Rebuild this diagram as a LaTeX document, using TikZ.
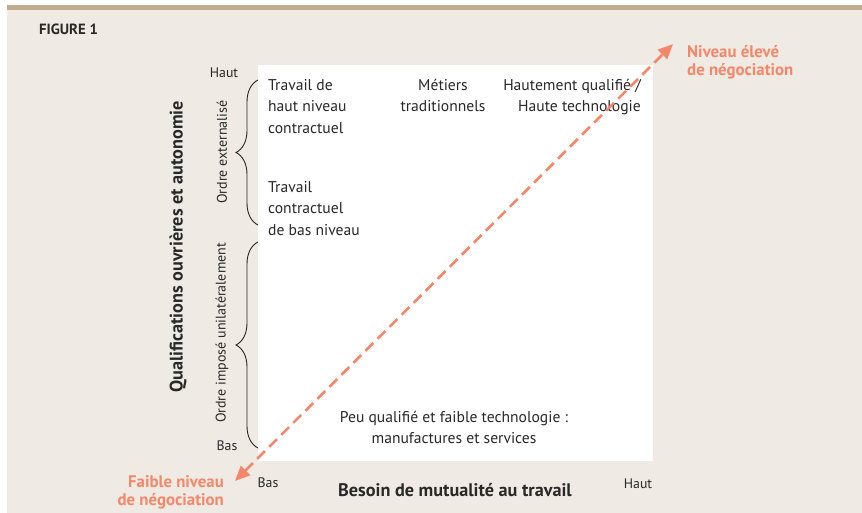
\documentclass[tikz,border=0pt]{standalone}
\usepackage{fontspec}
\setmainfont{PT Sans}
\usetikzlibrary{arrows.meta,decorations.pathreplacing}

\definecolor{sable}{RGB}{239,234,227}
\definecolor{bande}{RGB}{192,171,140}
\definecolor{encre}{RGB}{40,40,40}
\definecolor{saumon}{RGB}{244,135,106}

\begin{document}
\begin{tikzpicture}[x=1pt,y=-1pt]
    \tikzset{every node/.style={inner sep=0pt,text=encre},
             cadre/.style={font=\fontsize{15.6}{21.5}\selectfont},
             repere/.style={font=\fontsize{13.8}{15}\selectfont},
             titre/.style={font=\bfseries\fontsize{18.2}{20}\selectfont},
             ordre/.style={font=\fontsize{14}{16}\selectfont,rotate=90},
             negoc/.style={text=saumon,font=\bfseries\fontsize{16.8}{18.5}\selectfont},
             accolade/.style={draw=encre,line width=0.9pt,
                              decorate,decoration={brace,amplitude=22pt}}}

    % fond et bande du haut
    \useasboundingbox (0,0) rectangle (862,513);
    \fill[sable] (7,5) rectangle (862,513);
    \fill[bande] (7,5) rectangle (862,10);
    \fill[white] (258,65) rectangle (653,461);

    \node (fig) [anchor=west,font=\bfseries\fontsize{14.8}{16}\selectfont] at (39,29) {FIGURE 1};

    % cases du cadre
    \node (hautniv) [cadre,anchor=north west,align=left] at (268,79)
        {Travail de\\haut niveau\\contractuel};
    \node (metiers) [cadre,anchor=north,align=center] at (443,79)
        {Métiers\\traditionnels};
    \node (hautequal) [cadre,anchor=north east,align=right] at (641,79)
        {Hautement qualifié /\\Haute technologie};
    \node (basniv) [cadre,anchor=north west,align=left] at (268,181)
        {Travail\\contractuel\\de bas niveau};
    \node (peuqual) [cadre,anchor=north,align=center] at (454,411)
        {Peu qualifié et faible technologie :\\manufactures et services};

    % axes
    \node (yhaut) [repere] at (224,73) {Haut};
    \node (ybas) [repere] at (227,446) {Bas};
    \node (xbas) [repere] at (268,483) {Bas};
    \node (xhaut) [repere] at (638,484) {Haut};
    \node (xtitre) [titre] at (455,490) {Besoin de mutualité au travail};
    \node (ytitre) [titre,rotate=90] at (178,247) {Qualifications ouvrières et autonomie};

    % accolades
    \coordinate (ext1) at (258,225);
    \coordinate (ext2) at (258,80);
    \coordinate (imp1) at (258,448);
    \coordinate (imp2) at (258,242);
    \draw[accolade] (ext1) -- (ext2);
    \draw[accolade] (imp1) -- (imp2);
    \node (externe) [ordre] at (222,152) {Ordre externalisé};
    \node (impose) [ordre] at (222,333) {Ordre imposé unilatéralement};

    % fleche de negociation
    \coordinate (faible) at (235,481);
    \coordinate (eleve) at (673,44);
    \draw[saumon,line width=2.6pt,dash pattern=on 11pt off 6pt,
          {Triangle[length=15pt,width=13pt]}-{Triangle[length=15pt,width=13pt]}]
        (faible) -- (eleve);
    \node (nivhaut) [negoc,anchor=north west,align=left] at (687,45)
        {Niveau élevé\\de négociation};
    \node (nivbas) [negoc,anchor=north east,align=right] at (224,475)
        {Faible niveau\\de négociation};
\end{tikzpicture}
\end{document}
